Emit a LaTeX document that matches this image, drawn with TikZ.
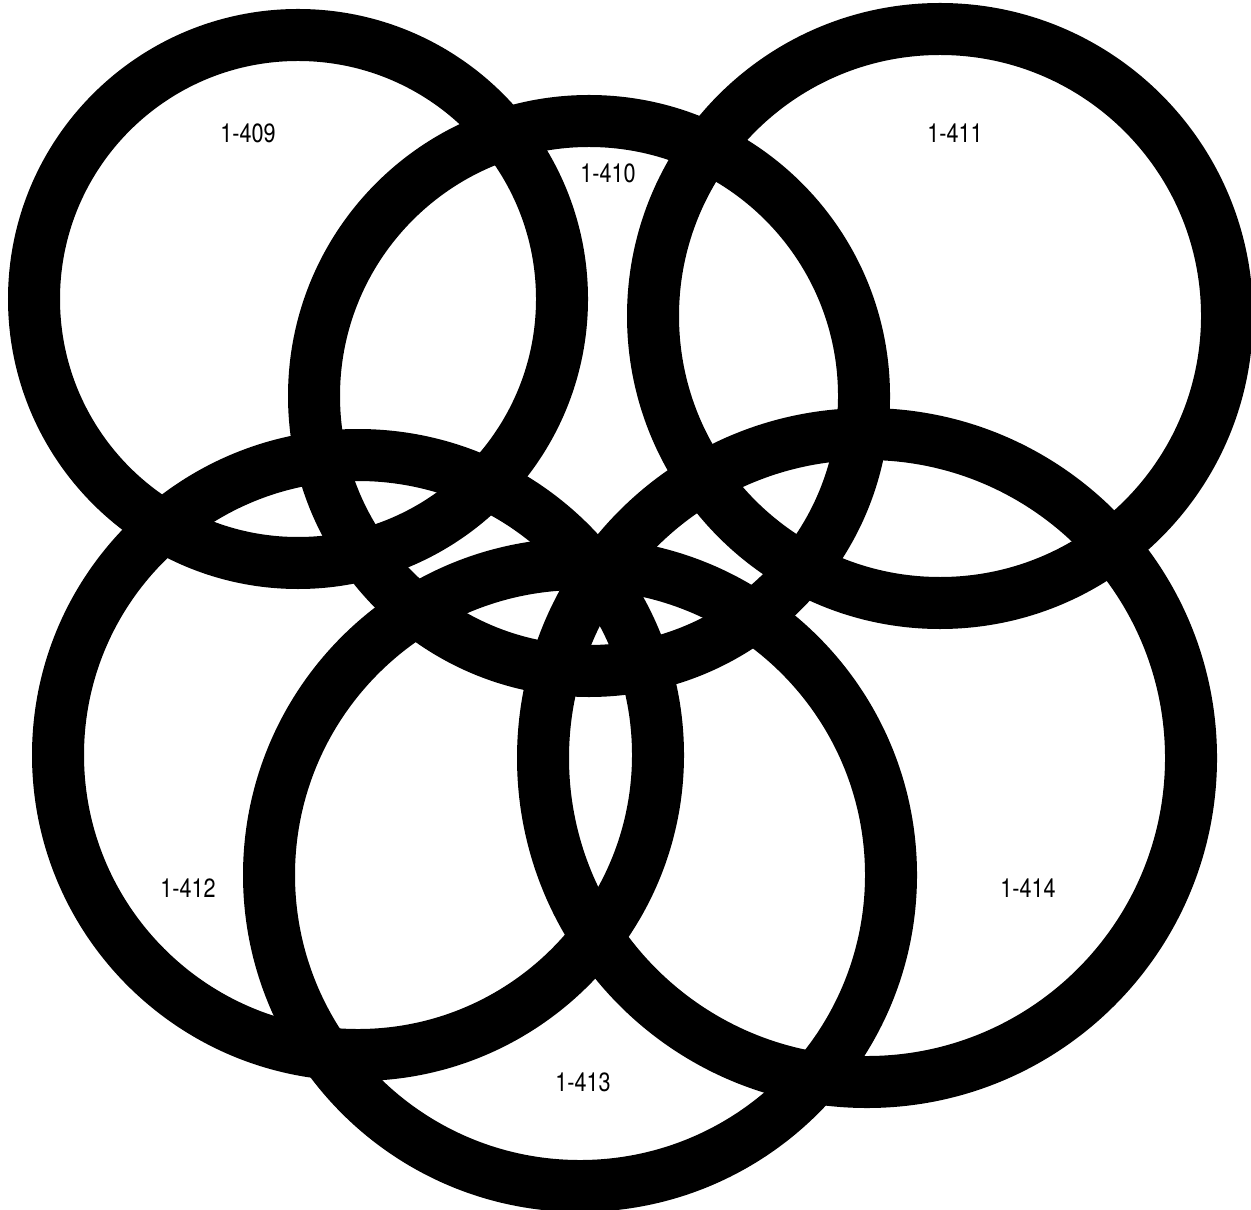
\documentclass[tikz,border=0pt]{standalone}
\usepackage{fontspec}
\setmainfont{TeX Gyre Heros}[FakeStretch=0.82]
\usepackage{tikz}
\tikzset{
  ring/.style  = {draw=black, line width=0.52cm},
  tag/.style   = {font=\fontsize{7.5}{9}\selectfont, inner sep=0pt},
}

\begin{document}
\begin{tikzpicture}
  \useasboundingbox (0,0) rectangle (12.51,12.09);

  % rings
  \draw[ring] (2.98,9.10) circle (2.64);
  \draw[ring] (5.89,8.13) circle (2.75);
  \draw[ring] (9.40,8.93) circle (2.87);
  \draw[ring] (3.58,4.54) circle (3.00);
  \draw[ring] (5.80,3.34) circle (3.11);
  \draw[ring] (8.67,4.51) circle (3.24);

  % labels
  \node[tag] (l409) at (2.48,10.76) {1-409};
  \node[tag] (l410) at (6.08,10.36) {1-410};
  \node[tag] (l411) at (9.55,10.76) {1-411};
  \node[tag] (l412) at (1.88,3.21)  {1-412};
  \node[tag] (l413) at (5.83,1.27)  {1-413};
  \node[tag] (l414) at (10.28,3.21) {1-414};
\end{tikzpicture}
\end{document}
